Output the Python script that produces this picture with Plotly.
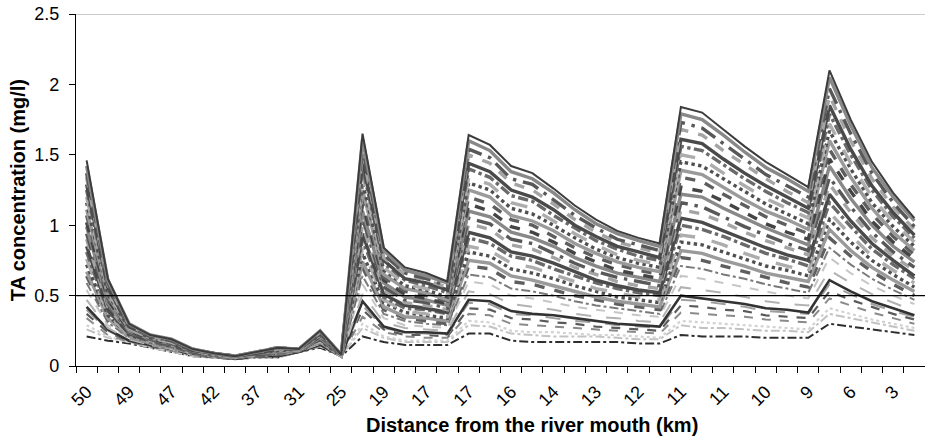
import plotly.graph_objects as go

# ---- data ----
stations = list(range(1, 41))          # 40 sampling points along the river
tick_labels = ["50", "49", "47", "42", "37", "31", "25", "19", "17", "17",
               "16", "14", "13", "12", "11", "11", "10", "9", "6", "3"]
threshold = 0.5
y_max = 2.5

s01 = [0.21,0.18,0.16,0.13,0.10,0.07,0.06,0.05,0.06,0.06,0.10,0.13,0.07, 0.21,0.17,0.15,0.15,0.15, 0.23,0.23,0.18,0.17,0.17,0.17,0.17,0.17,0.16,0.16, 0.22,0.21,0.21,0.21,0.20,0.20,0.20, 0.30,0.28,0.26,0.24,0.22]
s02 = [0.26,0.20,0.17,0.13,0.10,0.07,0.06,0.05,0.06,0.06,0.10,0.14,0.07, 0.27,0.20,0.17,0.17,0.17, 0.29,0.28,0.23,0.22,0.21,0.21,0.21,0.20,0.19,0.19, 0.29,0.27,0.27,0.26,0.25,0.25,0.24, 0.37,0.34,0.31,0.28,0.25]
s03 = [0.29,0.21,0.17,0.14,0.11,0.07,0.06,0.05,0.06,0.06,0.10,0.14,0.07, 0.30,0.21,0.18,0.18,0.18, 0.32,0.31,0.25,0.24,0.24,0.23,0.22,0.22,0.21,0.20, 0.32,0.31,0.30,0.29,0.28,0.27,0.26, 0.41,0.37,0.33,0.30,0.27]
s04 = [0.34,0.22,0.17,0.14,0.11,0.08,0.06,0.05,0.06,0.07,0.10,0.14,0.07, 0.35,0.24,0.21,0.20,0.20, 0.37,0.36,0.30,0.29,0.28,0.27,0.26,0.25,0.24,0.23, 0.38,0.37,0.36,0.35,0.33,0.32,0.31, 0.48,0.43,0.38,0.34,0.30]
s05 = [0.37,0.24,0.18,0.14,0.11,0.08,0.06,0.05,0.07,0.07,0.10,0.15,0.07, 0.40,0.26,0.22,0.22,0.21, 0.41,0.40,0.34,0.33,0.31,0.30,0.28,0.27,0.26,0.25, 0.43,0.42,0.40,0.39,0.36,0.35,0.34, 0.53,0.47,0.42,0.37,0.33]
s06 = [0.40,0.25,0.18,0.14,0.11,0.08,0.07,0.05,0.07,0.07,0.10,0.15,0.07, 0.43,0.27,0.24,0.23,0.22, 0.45,0.44,0.37,0.36,0.34,0.32,0.31,0.29,0.28,0.27, 0.47,0.46,0.44,0.42,0.39,0.38,0.37, 0.58,0.51,0.44,0.39,0.35]
s07 = [0.42,0.26,0.18,0.15,0.12,0.08,0.07,0.05,0.07,0.07,0.10,0.15,0.07, 0.46,0.28,0.24,0.24,0.23, 0.47,0.46,0.39,0.37,0.36,0.34,0.32,0.30,0.29,0.28, 0.50,0.48,0.46,0.44,0.41,0.40,0.38, 0.61,0.53,0.46,0.41,0.36]
s08 = [0.47,0.27,0.19,0.15,0.12,0.08,0.07,0.05,0.07,0.08,0.10,0.16,0.07, 0.51,0.31,0.27,0.26,0.25, 0.53,0.51,0.44,0.42,0.40,0.37,0.35,0.34,0.32,0.31, 0.56,0.54,0.52,0.49,0.46,0.44,0.43, 0.68,0.59,0.51,0.45,0.39]
s09 = [0.54,0.29,0.20,0.15,0.12,0.08,0.07,0.06,0.07,0.08,0.11,0.16,0.07, 0.58,0.34,0.29,0.28,0.27, 0.60,0.58,0.50,0.48,0.45,0.42,0.40,0.38,0.36,0.35, 0.64,0.62,0.59,0.56,0.53,0.50,0.48, 0.77,0.66,0.57,0.50,0.44]
s10 = [0.59,0.31,0.20,0.16,0.13,0.09,0.07,0.06,0.07,0.08,0.11,0.17,0.07, 0.64,0.37,0.32,0.30,0.29, 0.65,0.63,0.55,0.53,0.50,0.46,0.43,0.41,0.39,0.37, 0.71,0.69,0.65,0.62,0.58,0.55,0.52, 0.84,0.72,0.62,0.54,0.47]
s11 = [0.64,0.33,0.21,0.16,0.13,0.09,0.07,0.06,0.07,0.08,0.11,0.17,0.07, 0.70,0.40,0.34,0.32,0.30, 0.71,0.69,0.60,0.58,0.54,0.50,0.47,0.44,0.42,0.40, 0.77,0.75,0.71,0.67,0.63,0.59,0.56, 0.91,0.78,0.67,0.58,0.50]
s12 = [0.67,0.34,0.21,0.16,0.13,0.09,0.07,0.06,0.08,0.09,0.11,0.17,0.07, 0.74,0.42,0.35,0.34,0.32, 0.75,0.73,0.64,0.61,0.57,0.53,0.49,0.46,0.44,0.42, 0.82,0.80,0.75,0.71,0.66,0.63,0.60, 0.97,0.82,0.70,0.61,0.53]
s13 = [0.72,0.36,0.22,0.17,0.14,0.09,0.07,0.06,0.08,0.09,0.11,0.18,0.07, 0.80,0.45,0.38,0.36,0.34, 0.81,0.78,0.69,0.66,0.62,0.57,0.53,0.49,0.47,0.45, 0.88,0.86,0.81,0.76,0.71,0.68,0.64, 1.04,0.88,0.75,0.65,0.56]
s14 = [0.76,0.37,0.22,0.17,0.14,0.09,0.07,0.06,0.08,0.09,0.11,0.18,0.07, 0.84,0.47,0.39,0.37,0.35, 0.85,0.82,0.73,0.70,0.65,0.60,0.55,0.52,0.49,0.47, 0.93,0.91,0.86,0.80,0.75,0.71,0.67, 1.09,0.93,0.78,0.68,0.59]
s15 = [0.81,0.39,0.23,0.17,0.14,0.09,0.07,0.06,0.08,0.09,0.11,0.19,0.08, 0.90,0.49,0.41,0.40,0.37, 0.91,0.87,0.78,0.75,0.69,0.64,0.59,0.55,0.52,0.50, 1.00,0.97,0.92,0.86,0.80,0.76,0.71, 1.16,0.99,0.83,0.72,0.62]
s16 = [0.85,0.40,0.23,0.18,0.15,0.10,0.08,0.06,0.08,0.10,0.11,0.19,0.08, 0.94,0.51,0.43,0.41,0.38, 0.95,0.91,0.81,0.78,0.73,0.67,0.61,0.57,0.54,0.52, 1.05,1.02,0.96,0.90,0.84,0.79,0.75, 1.22,1.03,0.87,0.75,0.64]
s17 = [0.90,0.42,0.24,0.18,0.15,0.10,0.08,0.06,0.08,0.10,0.11,0.20,0.08, 1.00,0.54,0.45,0.43,0.40, 1.01,0.97,0.86,0.83,0.77,0.70,0.65,0.60,0.57,0.55, 1.11,1.08,1.02,0.95,0.89,0.84,0.79, 1.29,1.09,0.91,0.78,0.68]
s18 = [0.94,0.44,0.24,0.18,0.15,0.10,0.08,0.06,0.08,0.10,0.11,0.20,0.08, 1.05,0.56,0.47,0.45,0.41, 1.05,1.01,0.90,0.87,0.80,0.73,0.67,0.63,0.60,0.57, 1.16,1.13,1.06,0.99,0.93,0.87,0.82, 1.34,1.13,0.95,0.81,0.70]
s19 = [0.99,0.45,0.25,0.19,0.16,0.10,0.08,0.06,0.09,0.10,0.11,0.20,0.08, 1.10,0.59,0.49,0.47,0.43, 1.10,1.06,0.95,0.91,0.85,0.77,0.71,0.66,0.63,0.60, 1.22,1.20,1.12,1.05,0.98,0.92,0.86, 1.42,1.19,1.00,0.85,0.74]
s20 = [1.02,0.47,0.25,0.19,0.16,0.10,0.08,0.06,0.09,0.11,0.11,0.21,0.08, 1.15,0.61,0.51,0.48,0.44, 1.15,1.10,0.99,0.95,0.88,0.80,0.74,0.68,0.65,0.62, 1.27,1.24,1.17,1.09,1.01,0.95,0.90, 1.47,1.24,1.03,0.88,0.76]
s21 = [1.07,0.48,0.26,0.19,0.16,0.10,0.08,0.06,0.09,0.11,0.11,0.21,0.08, 1.20,0.63,0.53,0.50,0.46, 1.20,1.15,1.04,1.00,0.92,0.84,0.77,0.72,0.68,0.65, 1.34,1.31,1.22,1.14,1.06,1.00,0.94, 1.54,1.29,1.08,0.92,0.79]
s22 = [1.11,0.50,0.26,0.20,0.17,0.11,0.08,0.06,0.09,0.11,0.11,0.22,0.08, 1.25,0.65,0.55,0.52,0.47, 1.25,1.20,1.07,1.03,0.96,0.87,0.80,0.74,0.70,0.67, 1.39,1.36,1.27,1.18,1.10,1.04,0.97, 1.60,1.34,1.12,0.95,0.82]
s23 = [1.16,0.51,0.27,0.20,0.17,0.11,0.08,0.07,0.09,0.11,0.12,0.22,0.08, 1.30,0.68,0.57,0.54,0.49, 1.30,1.25,1.12,1.08,1.00,0.91,0.83,0.77,0.73,0.70, 1.45,1.42,1.33,1.24,1.15,1.08,1.01, 1.67,1.40,1.16,0.99,0.85]
s24 = [1.20,0.53,0.27,0.20,0.17,0.11,0.08,0.07,0.09,0.12,0.12,0.23,0.08, 1.35,0.70,0.58,0.55,0.51, 1.34,1.29,1.16,1.12,1.03,0.94,0.86,0.79,0.75,0.72, 1.50,1.47,1.37,1.28,1.19,1.12,1.05, 1.72,1.44,1.20,1.02,0.88]
s25 = [1.25,0.55,0.28,0.21,0.18,0.11,0.09,0.07,0.09,0.12,0.12,0.23,0.08, 1.41,0.73,0.61,0.57,0.52, 1.40,1.34,1.21,1.17,1.07,0.98,0.89,0.83,0.78,0.75, 1.56,1.53,1.43,1.33,1.24,1.16,1.09, 1.79,1.50,1.25,1.06,0.91]
s26 = [1.29,0.56,0.28,0.21,0.18,0.11,0.09,0.07,0.09,0.12,0.12,0.23,0.08, 1.45,0.75,0.62,0.59,0.54, 1.44,1.38,1.25,1.20,1.11,1.00,0.92,0.85,0.81,0.77, 1.61,1.58,1.47,1.37,1.28,1.20,1.12, 1.85,1.54,1.28,1.09,0.93]
s27 = [1.34,0.58,0.29,0.21,0.18,0.12,0.09,0.07,0.10,0.12,0.12,0.24,0.08, 1.51,0.77,0.65,0.61,0.56, 1.50,1.44,1.30,1.25,1.15,1.04,0.95,0.88,0.84,0.80, 1.68,1.64,1.53,1.43,1.33,1.24,1.16, 1.92,1.60,1.33,1.13,0.97]
s28 = [1.37,0.59,0.29,0.21,0.18,0.12,0.09,0.07,0.10,0.13,0.12,0.24,0.08, 1.55,0.79,0.66,0.62,0.57, 1.54,1.48,1.33,1.29,1.18,1.07,0.98,0.90,0.86,0.82, 1.73,1.69,1.58,1.47,1.36,1.28,1.20, 1.97,1.65,1.37,1.16,0.99]
s29 = [1.42,0.61,0.30,0.22,0.19,0.12,0.09,0.07,0.10,0.13,0.12,0.25,0.08, 1.61,0.82,0.68,0.64,0.59, 1.60,1.53,1.38,1.33,1.23,1.11,1.01,0.94,0.89,0.85, 1.79,1.75,1.64,1.52,1.41,1.33,1.24, 2.05,1.71,1.41,1.20,1.03]
s30 = [1.46,0.62,0.30,0.22,0.19,0.12,0.09,0.07,0.10,0.13,0.12,0.25,0.08, 1.65,0.84,0.70,0.66,0.60, 1.64,1.57,1.42,1.37,1.26,1.14,1.04,0.96,0.91,0.87, 1.84,1.80,1.68,1.56,1.45,1.36,1.27, 2.10,1.75,1.45,1.23,1.05]

series = [s01, s02, s03, s04, s05, s06, s07, s08, s09, s10,
          s11, s12, s13, s14, s15, s16, s17, s18, s19, s20,
          s21, s22, s23, s24, s25, s26, s27, s28, s29, s30]

# ---- styles ----
styles = [
    ("#2e2e2e", "dashdot", 2.0), ("#c2c2c2", "dashdot", 2.0), ("#d2d2d2", "dot", 2.2),
    ("#8a8a8a", "dash", 2.0), ("#5a5a5a", "dash", 2.2), ("#9e9e9e", "longdash", 2.0),
    ("#333333", "solid", 2.6), ("#b2b2b2", "longdash", 2.0), ("#c6c6c6", "dash", 2.0),
    ("#7a7a7a", "dashdot", 2.0),
]
dense_cycle = [("#5e5e5e", "dash"), ("#9a9a9a", "solid"), ("#505050", "dot"),
               ("#adadad", "longdash"), ("#6a6a6a", "dashdot"), ("#4a4a4a", "solid"),
               ("#a4a4a4", "dash"), ("#585858", "longdashdot"), ("#888888", "solid"),
               ("#444444", "dash")]
for k in range(19):
    c, d = dense_cycle[k % len(dense_cycle)]
    styles.append((c, d, 3.4))
styles.append(("#3c3c3c", "solid", 2.0))

FONT = "Liberation Sans, Arial, sans-serif"

fig = go.Figure()
for vals, (col, dash, w) in zip(series, styles):
    fig.add_trace(go.Scatter(x=stations, y=vals, mode="lines",
                             line=dict(color=col, dash=dash, width=w),
                             showlegend=False, hoverinfo="skip"))

fig.add_hline(y=threshold, line=dict(color="black", width=1.4), layer="above")
fig.add_hline(y=y_max, line=dict(color="#9a9a9a", width=1.2), layer="above")

fig.update_layout(
    width=925, height=438,
    margin=dict(l=76, r=0, t=14, b=72),
    paper_bgcolor="white", plot_bgcolor="white",
    font=dict(family=FONT, size=17, color="black"),
    showlegend=False,
)
fig.update_xaxes(
    range=[0.5, 40.5], showgrid=False, zeroline=False,
    showline=True, linecolor="black", linewidth=1.3,
    tickmode="array", tickvals=stations[::2], ticktext=tick_labels,
    tickangle=-45, ticks="", ticklabelstandoff=7,
    tickfont=dict(size=18, family=FONT, color="black"),
    minor=dict(tickmode="linear", tick0=0.5, dtick=1, ticks="outside",
               ticklen=6, tickcolor="black", tickwidth=1.2, showgrid=False),
)
fig.update_yaxes(
    range=[0, y_max], dtick=0.5, tick0=0, showgrid=False, zeroline=False,
    showline=True, linecolor="black", linewidth=1.3,
    ticks="outside", ticklen=6, tickcolor="black", tickwidth=1.2,
    ticklabelstandoff=6,
    tickfont=dict(size=18, family=FONT, color="black"),
)
fig.add_annotation(text="<b>TA concentration (mg/l)</b>", xref="paper", yref="paper",
                   x=-0.068, y=0.5, xanchor="center", yanchor="middle",
                   textangle=-90, showarrow=False,
                   font=dict(size=20, family=FONT, color="black"))
fig.add_annotation(text="<b>Distance from the river mouth (km)</b>", xref="paper", yref="paper",
                   x=0.537, y=-0.168, xanchor="center", yanchor="middle", showarrow=False,
                   font=dict(size=20, family=FONT, color="black"))

fig.write_html("out.html")
